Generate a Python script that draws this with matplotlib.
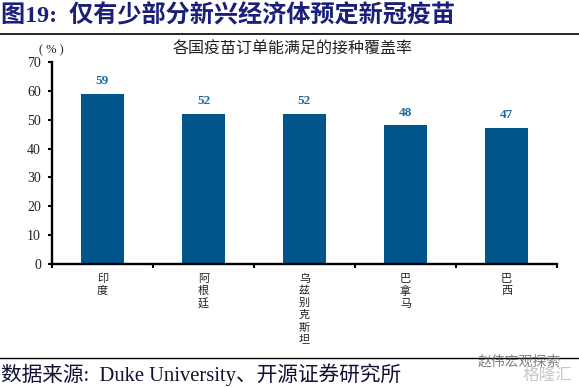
import matplotlib
matplotlib.use("Agg")
import matplotlib.pyplot as plt
from matplotlib.lines import Line2D

categories = ["印度", "阿根廷", "乌兹别克斯坦", "巴拿马", "巴西"]
values = [59, 52, 52, 48, 47]
yticks = [0, 10, 20, 30, 40, 50, 60, 70]

W, H = 579, 387
FONT = ["Liberation Serif", "Noto Sans CJK SC"]
plt.rcParams["font.family"] = FONT

fig = plt.figure(figsize=(W / 100, H / 100), dpi=100)
ax = fig.add_axes([52 / W, 1 - 264 / H, (557 - 52) / W, (264 - 62) / H])

positions = [i + 0.5 for i in range(len(categories))]
bars = ax.bar(positions, values, width=0.425, color="#00568A")
for x, v in zip(positions, values):
    ax.annotate(str(v), (x, v), xytext=(0, 5), textcoords="offset points",
                ha="center", va="bottom", fontsize=9.5, fontweight="bold", color="#1F6A9E")

ax.set_xlim(0, 5)
ax.set_ylim(0, 70)
ax.set_yticks(yticks)
ax.tick_params(axis="y", labelsize=10, length=3, width=1.5, pad=5, labelcolor="#222222")
ax.set_xticks(list(range(6)), minor=True)
ax.set_xticks(positions)
ax.set_xticklabels(["\n".join(c) for c in categories], fontsize=8, linespacing=1.25, color="#222222")
ax.tick_params(axis="x", which="major", length=0, pad=7)
ax.tick_params(axis="x", which="minor", length=3, width=1.5, direction="out")
for s in ("top", "right"):
    ax.spines[s].set_visible(False)
for s in ("left", "bottom"):
    ax.spines[s].set_linewidth(1.7)

def fx(px):
    return px / W
def fy(py):
    return 1 - py / H

fig.add_artist(Line2D([0, 1], [fy(34), fy(34)], color="black", lw=1.2))
fig.add_artist(Line2D([0, 1], [fy(358), fy(358)], color="black", lw=1.0))

fig.text(fx(1), fy(16), "图19:  仅有少部分新兴经济体预定新冠疫苗", fontsize=17.4, fontweight="bold",
         color="#1A1F7A", va="center", ha="left")
fig.text(fx(293), fy(50), "各国疫苗订单能满足的接种覆盖率", fontsize=11.5, color="#222222",
         va="center", ha="center")
fig.text(fx(51), fy(50), "( % )", fontsize=9, color="#222222", va="center", ha="center")
fig.text(fx(1), fy(375), "数据来源:  Duke University、开源证券研究所", fontsize=14.9, color="#111133",
         va="center", ha="left")
fig.text(fx(478), fy(362), "赵伟宏观探索", fontsize=10, color="#555555", alpha=0.75, va="center", ha="left")
fig.text(fx(572), fy(376), "格隆汇", fontsize=12, color="#BBBBBB", alpha=0.8, va="center", ha="right")

fig.savefig("out.png", dpi=100)
